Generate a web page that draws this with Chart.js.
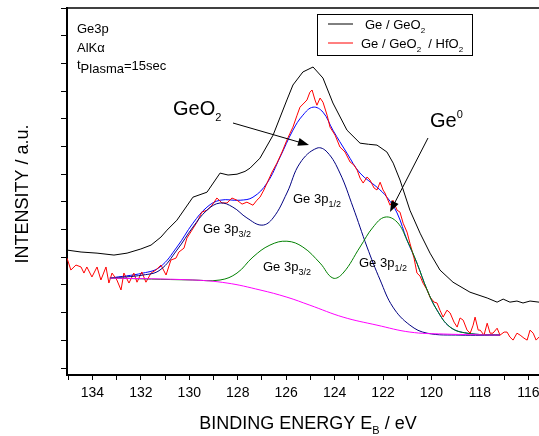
<!DOCTYPE html>
<html>
<head>
<meta charset="utf-8">
<script src="https://cdn.jsdelivr.net/npm/chart.js@4.4.0/dist/chart.umd.min.js"></script>
<style>
  html, body { margin: 0; padding: 0; background: #fff; }
  #wrap { width: 539px; height: 436px; }
</style>
</head>
<body>
<div id="wrap"><canvas id="xps" width="539" height="436"></canvas></div>
<script>
// Ge3p spectra, binding energy (eV) vs intensity (a.u.)
const blackE = [135.05, 134.47, 133.81, 133.11, 132.57, 132.00, 131.58, 131.17, 130.92, 130.51, 129.85, 129.27, 128.73, 128.40, 128.03, 127.70, 127.49, 127.08, 126.54, 125.97, 125.72, 125.31, 124.89, 124.48, 124.07, 123.49, 122.95, 122.60, 122.25, 121.84, 121.58, 121.30, 120.89, 120.47, 120.06, 119.65, 119.11, 118.41, 117.70, 117.29, 117.04, 116.76, 116.47, 116.22, 115.93, 115.56];
const blackI = [4.26, 4.19, 4.15, 4.08, 4.15, 4.30, 4.44, 4.73, 4.98, 5.34, 6.17, 6.35, 7.04, 6.97, 7.00, 7.10, 7.22, 7.58, 8.41, 9.68, 10.22, 10.69, 10.87, 10.47, 9.57, 8.59, 8.12, 8.08, 8.05, 7.80, 7.40, 6.79, 5.70, 4.87, 4.15, 3.54, 3.10, 2.74, 2.53, 2.38, 2.49, 2.38, 2.42, 2.35, 2.42, 2.38];

const redE = [135.05, 134.89, 134.68, 134.47, 134.35, 134.23, 134.02, 133.81, 133.65, 133.44, 133.32, 133.19, 132.99, 132.82, 132.70, 132.49, 132.29, 132.16, 131.96, 131.79, 131.58, 131.38, 131.17, 130.96, 130.76, 130.55, 130.43, 130.22, 130.10, 129.89, 129.68, 129.48, 129.27, 129.06, 128.86, 128.65, 128.44, 128.24, 128.03, 127.82, 127.62, 127.37, 127.21, 127.08, 126.92, 126.79, 126.58, 126.38, 126.17, 125.97, 125.84, 125.72, 125.55, 125.43, 125.26, 125.14, 125.02, 124.93, 124.81, 124.73, 124.60, 124.48, 124.31, 124.19, 123.98, 123.78, 123.57, 123.36, 123.20, 123.07, 122.95, 122.82, 122.66, 122.54, 122.37, 122.25, 122.12, 122.00, 121.92, 121.71, 121.59, 121.42, 121.30, 121.17, 121.01, 120.89, 120.72, 120.60, 120.47, 120.35, 120.18, 120.06, 119.89, 119.77, 119.65, 119.52, 119.36, 119.23, 119.07, 118.94, 118.82, 118.69, 118.53, 118.40, 118.28, 118.20, 118.07, 117.99, 117.83, 117.70, 117.58, 117.46, 117.29, 117.17, 117.00, 116.88, 116.76, 116.63, 116.47, 116.34, 116.18, 116.05, 115.93, 115.80, 115.68, 115.56];
const redI = [3.97, 3.54, 3.72, 3.65, 3.43, 3.65, 3.29, 3.65, 3.18, 3.65, 3.07, 3.43, 3.18, 2.82, 3.43, 3.07, 3.43, 3.10, 3.47, 3.10, 3.43, 3.54, 3.72, 3.36, 3.90, 3.97, 4.19, 4.33, 4.69, 4.98, 5.27, 5.63, 5.70, 5.88, 6.14, 5.96, 5.96, 6.14, 6.06, 5.92, 5.99, 5.88, 6.06, 6.17, 6.43, 6.68, 7.08, 7.40, 7.80, 8.23, 8.48, 8.70, 9.13, 9.42, 9.57, 9.68, 9.96, 10.04, 9.68, 9.49, 9.75, 9.60, 9.13, 8.70, 8.41, 7.98, 7.80, 7.44, 7.33, 7.15, 6.86, 6.68, 6.90, 6.79, 6.50, 6.43, 6.71, 6.43, 6.32, 5.88, 6.06, 5.70, 5.63, 5.23, 4.91, 4.51, 3.97, 3.43, 3.32, 3.07, 2.82, 2.56, 2.38, 2.35, 2.09, 1.84, 2.09, 1.99, 1.66, 1.48, 1.81, 1.73, 1.37, 1.26, 1.55, 1.84, 1.37, 1.37, 1.19, 1.62, 1.26, 1.26, 1.44, 1.19, 1.30, 1.30, 1.12, 1.01, 1.26, 1.19, 1.08, 1.01, 1.37, 1.26, 1.01, 1.12];

// fitted envelope
const sumE = [133.28, 131.91, 131.21, 130.51, 129.85, 129.27, 128.73, 127.90, 127.37, 126.79, 126.25, 125.72, 125.31, 124.89, 124.48, 124.07, 123.49, 122.95, 122.25, 121.84, 121.42, 121.01, 120.60, 120.18, 119.77, 119.23, 118.53, 117.17];
const sumI = [3.25, 3.43, 3.65, 4.37, 5.23, 5.81, 6.06, 6.06, 6.17, 6.68, 7.62, 8.59, 9.13, 9.42, 9.24, 8.59, 7.76, 7.04, 6.53, 6.17, 5.60, 4.62, 3.79, 2.82, 2.09, 1.48, 1.26, 1.19];

// GeO2 doublet
const geo2E = [133.28, 131.91, 131.21, 130.51, 129.85, 129.27, 128.73, 128.20, 127.62, 127.00, 126.54, 125.97, 125.43, 124.73, 124.31, 123.78, 123.24, 122.66, 122.12, 121.59, 120.89, 120.18, 118.82, 117.17];
const geo2I = [3.25, 3.36, 3.54, 4.26, 5.09, 5.70, 5.96, 5.81, 5.42, 5.16, 5.42, 6.32, 7.40, 7.94, 7.80, 7.04, 5.81, 4.37, 3.18, 2.20, 1.55, 1.26, 1.19, 1.19];

// Ge0 doublet
const ge0E = [133.28, 129.85, 128.73, 128.03, 127.37, 126.67, 125.97, 125.31, 124.60, 124.07, 123.65, 122.95, 122.41, 121.92, 121.42, 121.01, 120.60, 120.18, 119.77, 119.23, 118.53, 117.17];
const ge0I = [3.25, 3.18, 3.18, 3.43, 4.01, 4.44, 4.58, 4.37, 3.79, 3.25, 3.43, 4.37, 5.09, 5.45, 5.27, 4.62, 3.79, 2.82, 2.09, 1.48, 1.26, 1.19];

// Shirley background
const bgE = [133.28, 129.85, 128.44, 127.08, 125.97, 125.02, 123.65, 122.25, 120.89, 119.52, 117.17];
const bgI = [3.25, 3.18, 3.07, 2.82, 2.56, 2.27, 1.84, 1.55, 1.30, 1.23, 1.19];

const xTicks = [116, 117, 118, 119, 120, 121, 122, 123, 124, 125, 126, 127, 128, 129, 130, 131, 132, 133, 134, 135];
const yTicks = [0, 1, 2, 3, 4, 5, 6, 7, 8, 9, 10, 11, 12, 13];

const FONT = 'Arial, "Liberation Sans", sans-serif';

function pts(xs, ys) {
  return xs.map((x, i) => ({ x: x, y: ys[i] }));
}

function runs(ctx, x, y, parts) {
  // parts: [text, size, dy]
  parts.forEach(p => {
    ctx.font = p[1] + 'px ' + FONT;
    ctx.fillText(p[0], x, y + p[2]);
    x += ctx.measureText(p[0]).width;
  });
}

function arrow(ctx, x1, y1, x2, y2) {
  const a = Math.atan2(y2 - y1, x2 - x1);
  ctx.beginPath();
  ctx.moveTo(x1, y1);
  ctx.lineTo(x2 - 8 * Math.cos(a), y2 - 8 * Math.sin(a));
  ctx.stroke();
  ctx.beginPath();
  ctx.moveTo(x2, y2);
  ctx.lineTo(x2 - 11 * Math.cos(a) + 4 * Math.sin(a), y2 - 11 * Math.sin(a) - 4 * Math.cos(a));
  ctx.lineTo(x2 - 11 * Math.cos(a) - 4 * Math.sin(a), y2 - 11 * Math.sin(a) + 4 * Math.cos(a));
  ctx.closePath();
  ctx.fill();
}

const decor = {
  id: 'decor',
  afterDraw(chart) {
    const ctx = chart.ctx;
    const a = chart.chartArea;
    ctx.save();
    ctx.fillStyle = '#000';
    ctx.strokeStyle = '#000';
    ctx.textBaseline = 'alphabetic';
    ctx.textAlign = 'left';

    // top frame
    ctx.lineWidth = 1.5;
    ctx.beginPath();
    ctx.moveTo(a.left, a.top);
    ctx.lineTo(a.right, a.top);
    ctx.stroke();

    // info text
    runs(ctx, 77, 33, [['Ge3p', 13, 0]]);
    runs(ctx, 77, 52, [['AlK\u03b1', 13, 0]]);
    runs(ctx, 77, 70, [['t', 13, -1], ['Plasma', 13, 3], ['=15sec', 13, 0]]);

    // legend
    ctx.lineWidth = 1;
    ctx.strokeRect(317.5, 14.5, 155, 41);
    ctx.beginPath(); ctx.moveTo(328, 24); ctx.lineTo(353, 24); ctx.stroke();
    ctx.strokeStyle = '#ff0000';
    ctx.beginPath(); ctx.moveTo(328, 43); ctx.lineTo(353, 43); ctx.stroke();
    ctx.strokeStyle = '#000';
    runs(ctx, 365, 29, [['Ge / GeO', 13, 0], ['2', 8, 4]]);
    runs(ctx, 361, 48, [['Ge / GeO', 13, 0], ['2', 8, 4], ['  / HfO', 13, 0], ['2', 8, 4]]);

    // peak labels
    runs(ctx, 173, 115, [['GeO', 20, 0], ['2', 11, 6]]);
    runs(ctx, 430, 127, [['Ge', 20, 0], ['0', 11, -9]]);
    runs(ctx, 203, 233, [['Ge 3p', 13, 0], ['3/2', 9, 4]]);
    runs(ctx, 293, 203, [['Ge 3p', 13, 0], ['1/2', 9, 4]]);
    runs(ctx, 263, 271, [['Ge 3p', 13, 0], ['3/2', 9, 4]]);
    runs(ctx, 359, 267, [['Ge 3p', 13, 0], ['1/2', 9, 4]]);

    ctx.lineWidth = 1;
    arrow(ctx, 233, 123, 309, 145);
    arrow(ctx, 428, 138, 390, 212);

    // axis titles
    ctx.textAlign = 'center';
    ctx.font = '18px ' + FONT;
    ctx.save();
    ctx.translate(28, 194);
    ctx.rotate(-Math.PI / 2);
    ctx.fillText('INTENSITY / a.u.', 0, 0);
    ctx.restore();

    ctx.textAlign = 'left';
    ctx.font = '18px ' + FONT;
    const w1 = ctx.measureText('BINDING ENERGY E').width;
    ctx.font = '11px ' + FONT;
    const w2 = ctx.measureText('B').width;
    ctx.font = '18px ' + FONT;
    const w3 = ctx.measureText(' / eV').width;
    const x0 = 308 - (w1 + w2 + w3) / 2;
    runs(ctx, x0, 429, [['BINDING ENERGY E', 18, 0], ['B', 11, 5], [' / eV', 18, 0]]);
    ctx.restore();
  }
};

const line = (data, color, tension) => ({
  data: data,
  borderColor: color,
  borderWidth: 1,
  pointRadius: 0,
  fill: false,
  tension: tension
});

new Chart(document.getElementById('xps'), {
  type: 'line',
  data: {
    datasets: [
      line(pts(bgE, bgI), '#ff00ff', 0.4),
      line(pts(ge0E, ge0I), '#008000', 0.4),
      line(pts(geo2E, geo2I), '#000080', 0.4),
      line(pts(redE, redI), '#ff0000', 0),
      line(pts(sumE, sumI), '#0000ff', 0.4),
      line(pts(blackE, blackI), '#000000', 0)
    ]
  },
  options: {
    responsive: false,
    animation: false,
    events: [],
    layout: { autoPadding: false, padding: { top: 8, right: 0, left: 0, bottom: 0 } },
    plugins: { legend: { display: false }, tooltip: { enabled: false } },
    scales: {
      x: {
        type: 'linear',
        reverse: true,
        min: 115.56,
        max: 135.05,
        afterBuildTicks: s => { s.ticks = xTicks.map(v => ({ value: v })); },
        afterFit: s => { s.height = 61; s.paddingLeft = 0; s.paddingRight = 0; },
        ticks: {
          autoSkip: false,
          maxRotation: 0,
          color: '#000',
          padding: 5,
          font: { family: FONT, size: 14 },
          callback: v => (v % 2 === 0 ? String(v) : '')
        },
        grid: { drawOnChartArea: false, tickLength: 5, color: '#000', tickWidth: 1 },
        border: { color: '#000', width: 2 }
      },
      y: {
        type: 'linear',
        min: -0.25,
        max: 13,
        afterBuildTicks: s => { s.ticks = yTicks.map(v => ({ value: v })); },
        afterFit: s => { s.width = 67; s.paddingTop = 0; s.paddingBottom = 0; },
        ticks: { display: false },
        grid: { drawOnChartArea: false, tickLength: 6, color: '#000', tickWidth: 1 },
        border: { color: '#000', width: 2 }
      }
    }
  },
  plugins: [decor]
});
</script>
</body>
</html>
